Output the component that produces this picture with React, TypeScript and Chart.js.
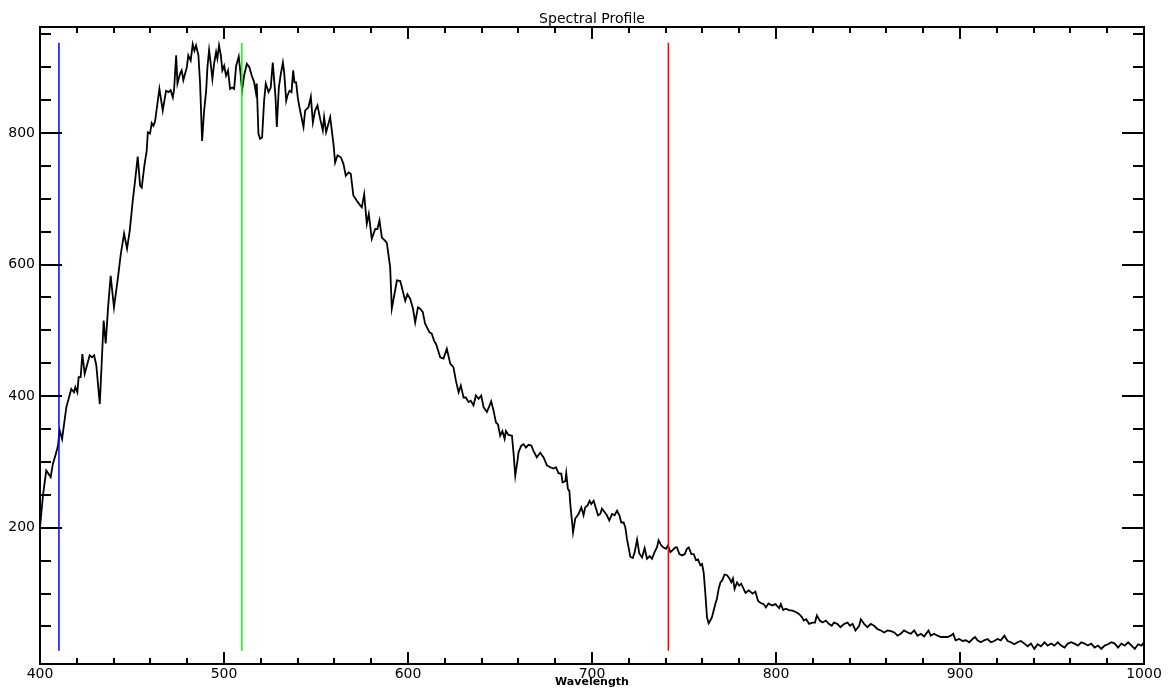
import React, { useEffect, useRef } from "react";
import { Chart, registerables } from "chart.js";

Chart.register(...registerables);

const wavelength = [
  400.0, 401.6, 403.4, 405.8, 407.0, 408.9, 409.8, 410.7, 412.0, 414.3, 417.0, 418.5, 419.2, 420.3, 421.0, 422.1,
  423.0, 424.3, 427.0, 428.3, 429.4, 430.6, 432.5, 434.6, 435.7, 437.0, 438.4, 440.2, 442.4, 443.9, 445.7, 447.3,
  448.8, 450.4, 451.7, 453.1, 454.4, 455.3, 456.7, 458.0, 458.6, 459.8, 460.7, 461.6, 462.5, 463.8, 464.9, 466.7,
  468.5, 469.8, 471.0, 472.2, 472.9, 474.0, 474.7, 476.1, 477.0, 477.9, 479.8, 480.6, 481.9, 483.0, 483.9, 484.8,
  486.1, 487.0, 488.1, 489.2, 490.3, 491.0, 491.9, 492.8, 493.7, 494.6, 495.7, 496.4, 497.3, 498.3, 499.1, 500.1,
  501.1, 502.2, 503.3, 504.4, 505.5, 506.6, 508.0, 509.1, 509.8, 510.9, 512.4, 513.8, 515.1, 516.4, 517.3, 517.8,
  518.7, 519.6, 520.7, 521.8, 522.7, 524.2, 525.4, 526.5, 528.0, 528.7, 529.8, 530.9, 532.0, 532.7, 533.8, 534.5,
  535.6, 536.7, 537.6, 538.3, 539.2, 540.1, 541.0, 543.2, 544.1, 545.9, 547.2, 548.3, 549.5, 550.8, 552.3, 553.7,
  554.4, 555.5, 557.7, 559.5, 560.4, 561.7, 563.5, 564.9, 566.2, 567.7, 568.9, 570.3, 572.2, 574.0, 574.9, 576.2,
  577.6, 578.7, 580.3, 582.2, 583.4, 584.5, 585.8, 587.6, 588.5, 590.3, 591.2, 592.5, 594.0, 595.8, 597.6, 598.5,
  599.7, 601.2, 602.7, 603.9, 605.4, 606.6, 608.0, 609.3, 611.7, 612.9, 614.2, 615.3, 617.5, 619.3, 621.1, 623.0,
  624.7, 626.0, 627.5, 628.7, 630.2, 631.4, 632.9, 634.1, 635.6, 636.9, 638.4, 639.8, 641.1, 642.9, 644.2, 645.2,
  646.5, 647.8, 648.9, 650.1, 651.3, 652.5, 653.2, 654.6, 656.5, 657.4, 658.3, 659.5, 660.1, 661.6, 662.8, 664.1,
  665.5, 667.0, 668.2, 670.0, 671.9, 673.7, 675.5, 677.3, 679.1, 680.4, 681.8, 683.3, 684.0, 685.5, 686.0, 686.9,
  687.7, 688.2, 689.1, 689.7, 690.9, 692.7, 694.2, 695.4, 696.3, 697.6, 698.7, 699.6, 700.9, 702.2, 703.3, 704.5,
  705.4, 706.8, 708.1, 709.4, 710.9, 712.3, 713.6, 714.9, 715.9, 717.2, 718.1, 719.0, 719.9, 720.8, 722.2, 723.2,
  724.5, 725.7, 727.2, 728.6, 729.9, 731.4, 732.6, 734.0, 735.3, 736.2, 737.7, 738.9, 740.2, 741.3, 742.6, 743.8,
  745.3, 746.2, 747.5, 749.0, 750.4, 751.6, 752.6, 754.0, 755.3, 756.5, 757.6, 758.9, 759.8, 760.7, 761.6, 762.5,
  763.4, 764.3, 765.2, 766.1, 767.0, 767.9, 768.8, 769.8, 770.7, 772.1, 773.4, 774.7, 775.7, 776.6, 777.5, 778.8,
  780.0, 781.1, 782.4, 783.4, 785.2, 787.3, 788.8, 790.2, 791.5, 793.3, 794.5, 795.9, 797.9, 799.7, 801.7, 802.6,
  803.9, 805.3, 807.1, 808.9, 810.7, 812.5, 814.2, 815.1, 816.4, 818.0, 819.8, 821.2, 822.2, 823.8, 825.3, 827.1,
  828.7, 830.3, 831.5, 833.3, 835.0, 837.1, 838.9, 840.2, 841.6, 843.2, 845.2, 846.1, 847.9, 849.7, 851.5, 853.3,
  855.2, 857.0, 858.8, 860.6, 862.4, 864.3, 866.0, 867.8, 869.6, 871.5, 873.3, 875.1, 876.9, 878.7, 880.5, 882.9,
  884.1, 885.9, 887.8, 889.6, 891.4, 893.2, 895.0, 896.3, 897.6, 899.6, 901.4, 903.2, 905.0, 906.8, 908.2, 909.5,
  911.3, 913.1, 915.0, 916.8, 918.6, 920.4, 922.2, 924.1, 925.9, 927.7, 929.5, 931.3, 933.1, 935.0, 936.8, 938.6,
  940.4, 942.2, 944.0, 945.9, 947.7, 949.5, 951.3, 953.1, 955.0, 956.8, 958.6, 960.4, 962.2, 964.1, 965.9, 967.7,
  969.5, 971.3, 973.2, 975.0, 976.8, 978.6, 980.4, 982.3, 984.1, 985.9, 987.7, 989.5, 991.4, 993.2, 995.0, 996.8,
  998.6, 1000.0,
];

const intensity = [
  200, 249, 287, 277, 297, 315, 325, 348, 335, 383, 411, 406, 414, 406, 429, 429,
  464, 434, 462, 459, 462, 447, 388, 515, 480, 535, 583, 535, 581, 616, 647, 624,
  652, 697, 728, 764, 720, 717, 750, 773, 801, 799, 815, 811, 817, 844, 867, 834,
  864, 862, 865, 854, 867, 918, 875, 890, 895, 880, 900, 918, 910, 935, 925, 933,
  918, 875, 788, 834, 864, 900, 926, 905, 882, 905, 923, 913, 933, 918, 895, 902,
  887, 895, 867, 869, 867, 902, 916, 887, 864, 887, 905, 900, 887, 877, 862, 875,
  799, 791, 793, 849, 875, 862, 869, 907, 854, 809, 869, 890, 907, 892, 849, 857,
  864, 862, 895, 877, 877, 854, 839, 809, 834, 839, 855, 816, 834, 842, 821, 804,
  824, 801, 824, 783, 755, 766, 763, 753, 735, 740, 738, 705, 697, 690, 687, 707,
  662, 677, 639, 654, 654, 667, 641, 636, 633, 596, 533, 553, 576, 575, 555, 545,
  555, 548, 533, 512, 535, 533, 528, 510, 497, 495, 484, 479, 459, 457, 472, 449,
  444, 424, 406, 416, 398, 398, 391, 393, 386, 401, 396, 401, 383, 376, 385, 392,
  378, 360, 357, 340, 347, 335, 347, 341, 340, 312, 279, 302, 315, 325, 327, 322,
  326, 325, 317, 307, 314, 307, 295, 292, 290, 292, 283, 282, 269, 271, 283, 259,
  256, 236, 211, 193, 214, 221, 231, 219, 231, 234, 241, 236, 241, 229, 219, 221,
  229, 224, 219, 211, 221, 219, 226, 219, 208, 208, 201, 183, 170, 156, 154, 163,
  182, 161, 155, 169, 153, 157, 153, 163, 170, 181, 173, 170, 168, 173, 163, 166,
  170, 170, 160, 158, 160, 168, 170, 160, 160, 151, 152, 143, 145, 132, 100, 64,
  55, 59, 64, 74, 84, 92, 107, 117, 120, 129, 128, 123, 117, 123, 107, 117,
  112, 115, 107, 101, 105, 100, 103, 89, 86, 84, 79, 85, 82, 84, 78, 84,
  75, 77, 75, 74, 72, 69, 64, 59, 61, 54, 56, 56, 67, 59, 56, 59,
  54, 51, 56, 54, 49, 54, 56, 51, 54, 44, 51, 61, 54, 49, 54, 51,
  46, 44, 41, 44, 43, 41, 36, 39, 44, 41, 39, 44, 36, 39, 35, 44,
  36, 39, 36, 34, 34, 34, 36, 39, 29, 31, 28, 29, 26, 31, 34, 29,
  26, 29, 31, 26, 28, 31, 29, 36, 28, 26, 23, 26, 28, 24, 20, 24,
  16, 23, 20, 26, 21, 24, 21, 26, 21, 18, 24, 26, 24, 21, 26, 24,
  21, 24, 18, 21, 16, 21, 23, 26, 24, 18, 24, 21, 26, 21, 16, 23,
  21, 26,
];

const markerWavelengths = [410.3, 509.7, 741.5];
const markerColors = ["#0000ff", "#00ff00", "#ff0000"];
const markerRange = [13, 937];

const xMajorTicks = [400, 500, 600, 700, 800, 900, 1000];
const xMinorTicks = [
  420, 440, 460, 480, 520, 540, 560, 580, 620, 640, 660, 680, 720, 740, 760, 780, 820, 840, 860, 880, 920, 940, 960, 980,
];
const yMajorTicks = [200, 400, 600, 800];
const yMinorTicks = [50, 100, 150, 250, 300, 350, 450, 500, 550, 650, 700, 750, 850, 900, 950];

const chartTitle = "Spectral Profile";
const xTitle = "Wavelength";

const FONT = '"DejaVu Sans", sans-serif';

const boxPlugin = {
  id: "idlBox",
  afterDraw(chart: any) {
    const { ctx, chartArea, scales } = chart;
    const { left, right, top, bottom } = chartArea;
    const xs = scales.x;
    const ys = scales.y;
    ctx.save();
    ctx.strokeStyle = "#000";
    ctx.lineWidth = 2;
    ctx.strokeRect(left, top, right - left, bottom - top);
    ctx.beginPath();
    const xTick = (v: number, len: number) => {
      const px = Math.round(xs.getPixelForValue(v));
      ctx.moveTo(px, bottom);
      ctx.lineTo(px, bottom - len);
      ctx.moveTo(px, top);
      ctx.lineTo(px, top + len);
    };
    const yTick = (v: number, len: number) => {
      const py = Math.round(ys.getPixelForValue(v));
      ctx.moveTo(left, py);
      ctx.lineTo(left + len, py);
      ctx.moveTo(right, py);
      ctx.lineTo(right - len, py);
    };
    xMajorTicks.forEach((v) => xTick(v, 12));
    xMinorTicks.forEach((v) => xTick(v, 6));
    yMajorTicks.forEach((v) => yTick(v, 22));
    yMinorTicks.forEach((v) => yTick(v, 11));
    ctx.stroke();

    ctx.fillStyle = "#000";
    ctx.textAlign = "center";
    ctx.textBaseline = "middle";
    ctx.font = `14px ${FONT}`;
    ctx.fillText(chartTitle, (left + right) / 2, 19);
    ctx.font = `bold 11px ${FONT}`;
    ctx.fillText(xTitle, (left + right) / 2, 682);
    ctx.restore();
  },
};

export default function App() {
  const canvasRef = useRef<HTMLCanvasElement | null>(null);

  useEffect(() => {
    if (!canvasRef.current) return;
    const spectrum = wavelength.map((w, i) => ({ x: w, y: intensity[i] }));
    const markerSets = markerWavelengths.map((w, i) => ({
      data: [
        { x: w, y: markerRange[0] },
        { x: w, y: markerRange[1] },
      ],
      borderColor: markerColors[i],
      borderWidth: 1.5,
      pointRadius: 0,
      order: 0,
    }));
    const chart = new Chart(canvasRef.current, {
      type: "line",
      data: {
        datasets: [
          ...markerSets,
          {
            data: spectrum,
            borderColor: "#000",
            borderWidth: 1.8,
            pointRadius: 0,
            tension: 0,
            order: 1,
          },
        ],
      },
      options: {
        animation: false,
        responsive: false,
        devicePixelRatio: 1,
        layout: { padding: { left: 0, top: 27, right: 24, bottom: 0 } },
        plugins: {
          legend: { display: false },
          tooltip: { enabled: false },
          title: { display: false },
        },
        scales: {
          x: {
            type: "linear",
            min: 400,
            max: 1000,
            grid: { display: false, drawTicks: false },
            border: { display: false },
            afterBuildTicks: (scale: any) => {
              scale.ticks = xMajorTicks.map((v) => ({ value: v }));
            },
            afterFit: (scale: any) => {
              scale.height = 26;
            },
            ticks: {
              color: "#000",
              padding: 2,
              maxRotation: 0,
              autoSkip: false,
              callback: (v: any) => String(v),
              font: { family: FONT, size: 14 },
            },
          },
          y: {
            type: "linear",
            min: -7,
            max: 961,
            grid: { display: false, drawTicks: false },
            border: { display: false },
            afterBuildTicks: (scale: any) => {
              scale.ticks = yMajorTicks.map((v) => ({ value: v }));
            },
            afterFit: (scale: any) => {
              scale.width = 40;
            },
            ticks: {
              color: "#000",
              padding: 5,
              autoSkip: false,
              callback: (v: any) => String(v),
              font: { family: FONT, size: 14 },
            },
          },
        },
      } as any,
      plugins: [boxPlugin],
    });
    return () => chart.destroy();
  }, []);

  return (
    <div style={{ position: "absolute", left: 0, top: 0, width: 1168, height: 690, background: "#fff" }}>
      <canvas ref={canvasRef} width={1168} height={690} />
    </div>
  );
}
